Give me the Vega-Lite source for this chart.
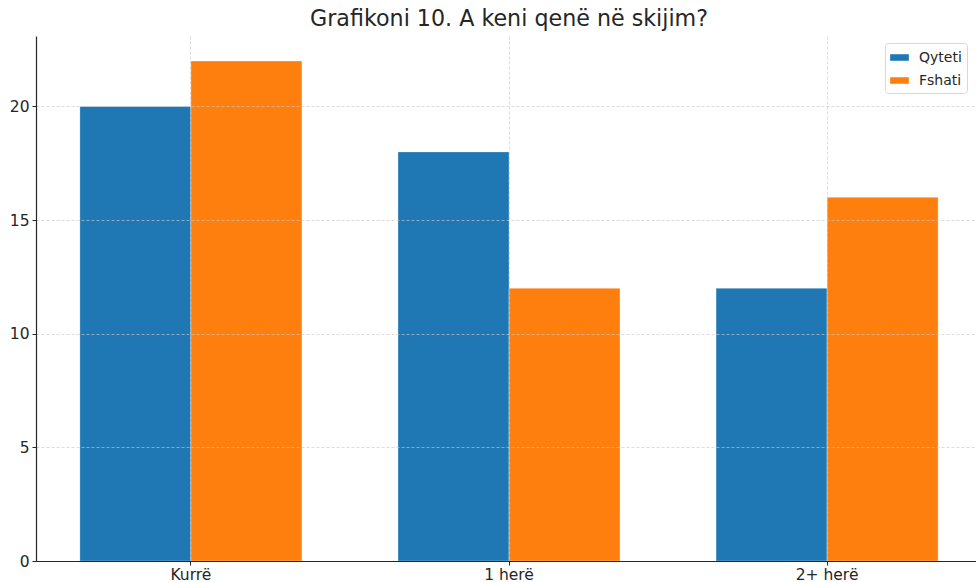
{
  "$schema": "https://vega.github.io/schema/vega-lite/v6.json",
  "width": 946,
  "height": 525,
  "autosize": "none",
  "padding": {"left": 36, "top": 36, "right": -6, "bottom": 21},
  "background": "white",
  "title": {
    "text": "Grafikoni 10. A keni qenë në skijim?",
    "font": "DejaVu Sans",
    "fontSize": 22.2,
    "fontWeight": "normal",
    "color": "#262626",
    "anchor": "middle",
    "offset": 6
  },
  "data": {
    "values": [
      {"kategoria": "Kurrë", "grupi": "Qyteti", "vlera": 20},
      {"kategoria": "Kurrë", "grupi": "Fshati", "vlera": 22},
      {"kategoria": "1 herë", "grupi": "Qyteti", "vlera": 18},
      {"kategoria": "1 herë", "grupi": "Fshati", "vlera": 12},
      {"kategoria": "2+ herë", "grupi": "Qyteti", "vlera": 12},
      {"kategoria": "2+ herë", "grupi": "Fshati", "vlera": 16}
    ]
  },
  "mark": {"type": "bar", "stroke": "white", "strokeWidth": 0.5, "strokeOpacity": 0.6},
  "encoding": {
    "x": {
      "field": "kategoria",
      "type": "nominal",
      "sort": ["Kurrë", "1 herë", "2+ herë"],
      "scale": {"paddingInner": 0.302, "paddingOuter": 0.138},
      "axis": {
        "title": null,
        "labelAngle": 0,
        "labelFont": "DejaVu Sans",
        "labelFontSize": 15.5,
        "labelColor": "#262626",
        "labelPadding": 2,
        "tickSize": 4,
        "tickColor": "#262626",
        "tickBand": "center",
        "domainColor": "#262626",
        "domainWidth": 1.2,
        "grid": true,
        "gridColor": "#c8c8c8",
        "gridDash": [3, 2],
        "gridOpacity": 0.8,
        "gridWidth": 0.8,
        "zindex": 1
      }
    },
    "xOffset": {"field": "grupi", "type": "nominal", "sort": ["Qyteti", "Fshati"], "scale": {"paddingInner": 0, "paddingOuter": 0}},
    "y": {
      "field": "vlera",
      "type": "quantitative",
      "scale": {"domain": [0, 23.1], "nice": false},
      "axis": {
        "title": null,
        "values": [0, 5, 10, 15, 20],
        "labelFont": "DejaVu Sans",
        "labelFontSize": 15.5,
        "labelColor": "#262626",
        "labelPadding": 3,
        "tickSize": 4,
        "tickColor": "#262626",
        "domainColor": "#262626",
        "domainWidth": 1.2,
        "grid": true,
        "gridColor": "#c8c8c8",
        "gridDash": [3, 2],
        "gridOpacity": 0.8,
        "gridWidth": 0.8,
        "zindex": 1
      }
    },
    "color": {
      "field": "grupi",
      "type": "nominal",
      "sort": ["Qyteti", "Fshati"],
      "scale": {"domain": ["Qyteti", "Fshati"], "range": ["#1f77b4", "#ff7f0e"]},
      "legend": {
        "title": null,
        "orient": "none",
        "legendX": 849,
        "legendY": 7,
        "symbolType": "M-1,-0.35H1V0.35H-1Z",
        "symbolSize": 350,
        "symbolStrokeWidth": 0,
        "labelFont": "DejaVu Sans",
        "labelFontSize": 14,
        "labelColor": "#262626",
        "labelOffset": 10,
        "rowPadding": 6,
        "padding": 5,
        "fillColor": "white",
        "strokeColor": "#d8d8d8",
        "cornerRadius": 3
      }
    }
  },
  "config": {
    "view": {"stroke": null}
  }
}
